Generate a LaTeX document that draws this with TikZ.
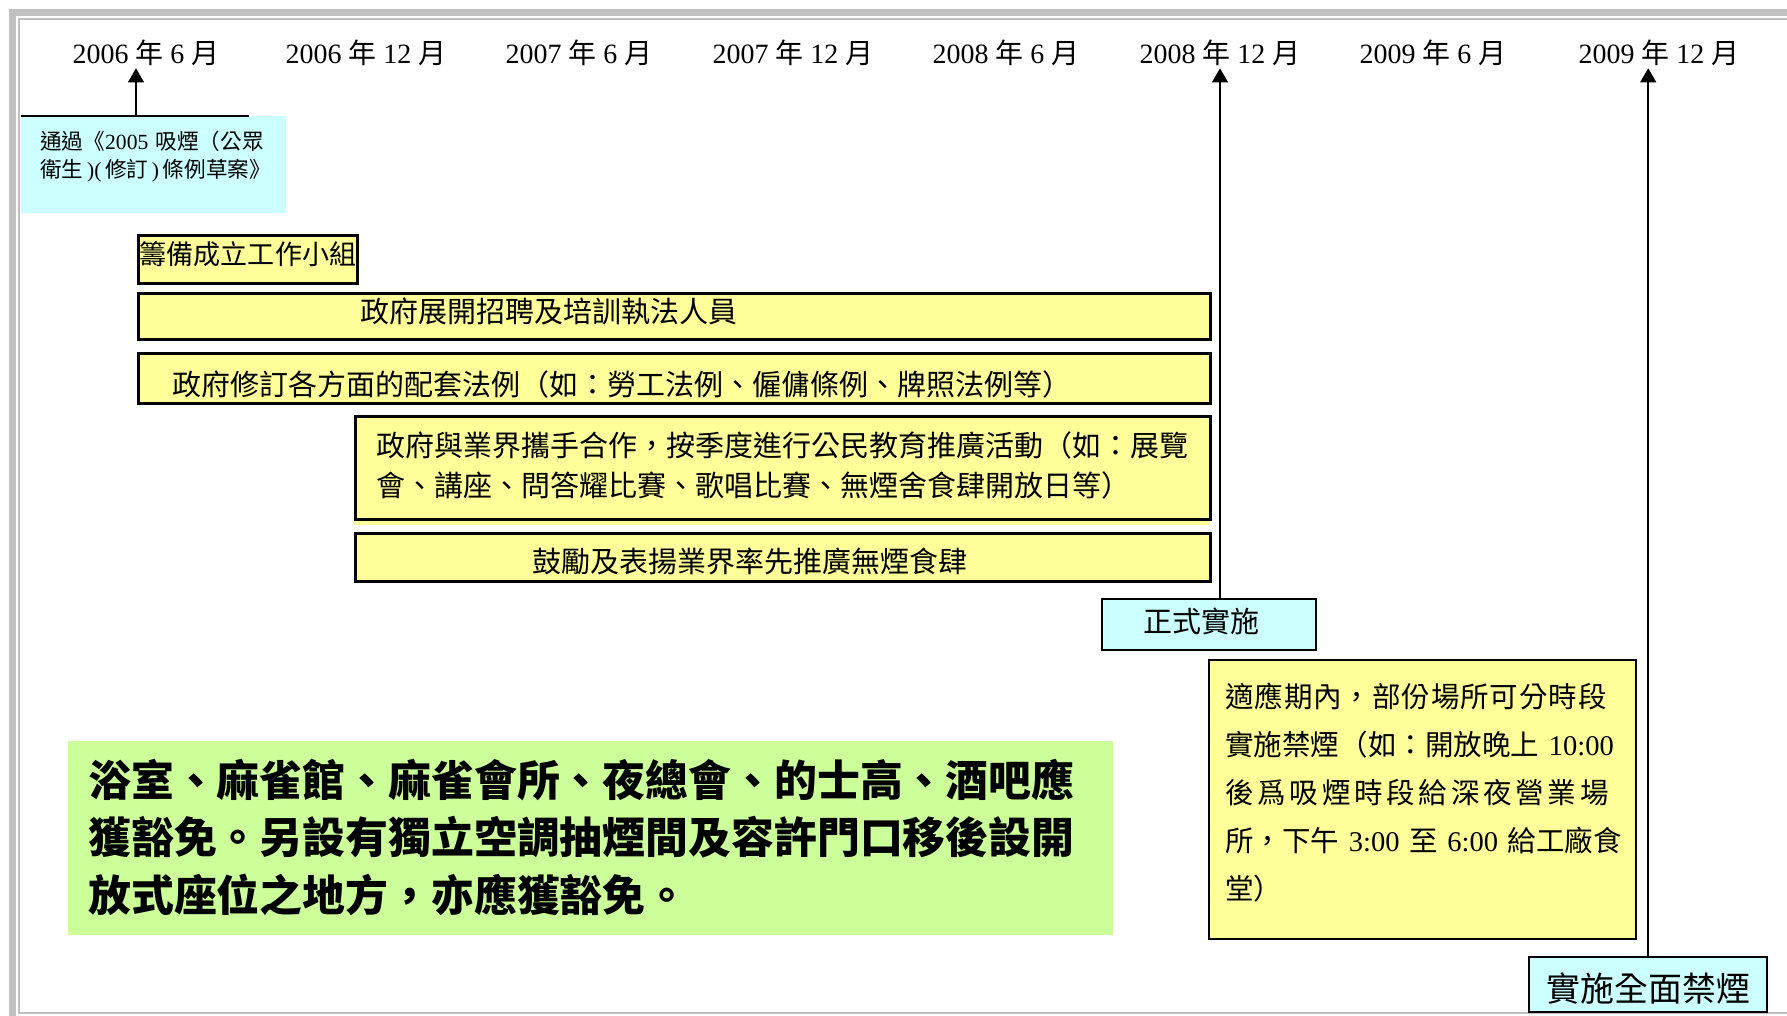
\documentclass[tikz,border=0pt]{standalone}
\usepackage{fontspec}
\setmainfont{Liberation Serif}
\newfontfamily\cjk{Noto Sans CJK TC}
\usepackage{tikz}
\usetikzlibrary{arrows.meta}

\definecolor{boxyellow}{HTML}{FFFF99}
\definecolor{boxcyan}{HTML}{CCFFFF}
\definecolor{boxgreen}{HTML}{CCFF99}
\definecolor{framegray}{HTML}{C0C0C0}

\begin{document}
\begin{tikzpicture}[x=0.02cm, y=-0.02cm,
		datelbl/.style={anchor=base, inner sep=1.5pt, font=\fontsize{15.9}{19}\selectfont},
		cjkfont/.style={font=\cjk\fontsize{16.5}{22.8}\selectfont},
		ybox/.style={draw, line width=1.7pt, fill=boxyellow, anchor=north west, inner ysep=0pt, align=left},
		cbox/.style={draw, line width=1.4pt, fill=boxcyan, anchor=north west, inner ysep=0pt},
		dateline/.style={line width=1pt, -{Triangle[length=8pt,width=9pt]}}]
		\useasboundingbox (0,0) rectangle (1787,1015);
		\clip (0,0) rectangle (1787,1015);
		% frame
		\draw[framegray, line width=4pt] (12.5,12.5) rectangle (1830,1060);
		\draw[framegray, line width=1.1pt] (19,19.3) rectangle (1810,1013);
		% dates
		\node[datelbl] (d0606) at (146,63) {2006 {\cjk 年} 6 {\cjk 月}};
		\node[datelbl] (d0612) at (366,63) {2006 {\cjk 年} 12 {\cjk 月}};
		\node[datelbl] (d0706) at (579,63) {2007 {\cjk 年} 6 {\cjk 月}};
		\node[datelbl] (d0712) at (793,63) {2007 {\cjk 年} 12 {\cjk 月}};
		\node[datelbl] (d0806) at (1006,63) {2008 {\cjk 年} 6 {\cjk 月}};
		\node[datelbl] (d0812) at (1220,63) {2008 {\cjk 年} 12 {\cjk 月}};
		\node[datelbl] (d0906) at (1433,63) {2009 {\cjk 年} 6 {\cjk 月}};
		\node[datelbl] (d0912) at (1659,63) {2009 {\cjk 年} 12 {\cjk 月}};
		% bill passed
		\node[fill=boxcyan, anchor=north west, inner ysep=0pt, inner xsep=0.38cm, text width=4.54cm, align=left, text height=0.66cm, text depth=1.28cm, font=\cjk\fontsize{12.3}{15.9}\selectfont] (pass) at (21,116) {通過《{\rmfamily 2005} 吸煙（公眾\\衛生\,{\rmfamily )(}\,修訂\,{\rmfamily )}\,條例草案》};
		\coordinate (passmid) at (136,116);
		\coordinate (passend) at (249,116);
		\draw[line width=0.8pt] (pass.north west) -- (passend);
		\draw[dateline] (passmid) -- (passmid |- d0606.south);
		% preparation
		\node[ybox, font=\cjk\fontsize{15.4}{18}\selectfont, align=center, text width=4.38cm, inner xsep=0pt, text height=0.58cm, text depth=0.38cm] (team) at (137,234) {籌備成立工作小組};
		\node[ybox, cjkfont, text width=12.56cm, inner xsep=4.44cm, text height=0.58cm, text depth=0.34cm] (staff) at (137,292) {政府展開招聘及培訓執法人員};
		\node[ybox, cjkfont, text width=20.08cm, inner xsep=0.68cm, text height=0.84cm, text depth=0.16cm] (law) at (137,352) {政府修訂各方面的配套法例（如：勞工法例、僱傭條例、牌照法例等）};
		\fill[boxyellow] (354,516) rectangle (1209,525);
		\node[ybox, cjkfont, text width=16.26cm, inner xsep=0.42cm, text height=0.8cm, text depth=1.26cm] (edu) at (354,415) {政府與業界攜手合作，按季度進行公民教育推廣活動（如：展覽\\會、講座、問答耀比賽、歌唱比賽、無煙舍食肆開放日等）};
		\node[ybox, cjkfont, text width=10.02cm, inner xsep=3.54cm, text height=0.78cm, text depth=0.18cm] (promo) at (354,532) {鼓勵及表揚業界率先推廣無煙食肆};
		% start
		\node[cbox, cjkfont, align=left, text width=2.64cm, inner xsep=0.82cm, text height=0.67cm, text depth=0.35cm] (start) at (1101,598) {正式實施};
		\draw[dateline] (start.north -| d0812.south) -- (d0812.south);
		\node[ybox, line width=1.4pt, font=\cjk\fontsize{16.25}{27.3}\selectfont, text width=7.9cm, inner xsep=0.32cm, text height=0.94cm, text depth=4.64cm] (adapt) at (1208,659) {{\addfontfeature{LetterSpace=3}適應期內，部份場所可分時段}\\\mbox{實施禁煙（如：開放晚上 {\rmfamily 10:00}}\\{\addfontfeature{LetterSpace=13}後爲吸煙時段給深夜營業場}\\\mbox{所，下午 {\rmfamily 3:00} 至 {\rmfamily 6:00} 給工廠食}\\堂）};
		% exemptions
		\node[fill=boxgreen, anchor=north west, inner ysep=0pt, inner xsep=0.4cm, text width=20.1cm, align=left, text height=1.1cm, text depth=2.78cm, font=\cjk\bfseries\fontsize{24.4}{32.7}\selectfont] (exempt) at (68,741) {浴室、麻雀館、麻雀會所、夜總會、的士高、酒吧應\\獲豁免。另設有獨立空調抽煙間及容許門口移後設開\\放式座位之地方，亦應獲豁免。};
		% full ban
		\node[cbox, font=\cjk\fontsize{19.3}{23}\selectfont, align=center, text width=4.76cm, inner xsep=0pt, text height=0.89cm, text depth=0.21cm] (full) at (1528,956) {實施全面禁煙};
		\draw[dateline] (full.north) -- (full.north |- d0912.south);
	\end{tikzpicture}
\end{document}
